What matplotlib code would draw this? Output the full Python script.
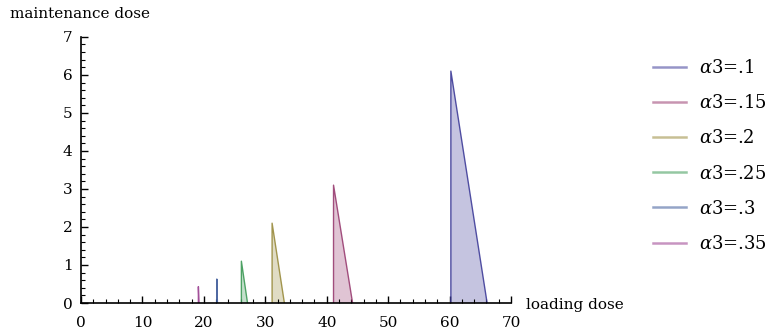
import matplotlib.pyplot as plt
from matplotlib.ticker import MultipleLocator

plt.rcParams['font.family'] = ['DejaVu Serif']
plt.rcParams['mathtext.fontset'] = 'dejavuserif'

# data: each curve rises at x_start, peaks, falls to 0 at x_end
labels = ['$\\alpha$3=.1', '$\\alpha$3=.15', '$\\alpha$3=.2',
          '$\\alpha$3=.25', '$\\alpha$3=.3', '$\\alpha$3=.35']
x_start = [60.2, 41.1, 31.1, 26.1, 22.1, 19.1]
x_end = [66.1, 44.2, 33.1, 27.1, 22.2, 19.2]
peak = [6.1, 3.1, 2.1, 1.1, 0.63, 0.43]
colors = ['#3f3d99', '#993d71', '#998b3d', '#3d9956', '#3d5a99', '#993d8f']

fig = plt.figure(figsize=(7.74, 3.3), dpi=100)
ax = fig.add_axes([0.1047, 0.0818, 0.5556, 0.8064])

for lab, xs, xe, p, c in zip(labels, x_start, x_end, peak, colors):
    xx = [xs, xs, xe]
    yy = [0, p, 0]
    ax.fill(xx, yy, color=c, alpha=0.3, lw=0)
    ax.plot(xx, yy, color=c, lw=1.0, alpha=0.9)
    # legend handle (lighter line, as in the original)
    ax.plot([], [], color=c, lw=1.8, alpha=0.55, label=lab)

ax.set_xlim(0, 70)
ax.set_ylim(0, 7)
ax.spines['top'].set_visible(False)
ax.spines['right'].set_visible(False)
ax.spines['left'].set_linewidth(1.2)
ax.spines['bottom'].set_linewidth(1.2)

ax.xaxis.set_major_locator(MultipleLocator(10))
ax.xaxis.set_minor_locator(MultipleLocator(2))
ax.yaxis.set_major_locator(MultipleLocator(1))
ax.yaxis.set_minor_locator(MultipleLocator(0.2))
ax.tick_params(which='major', direction='in', length=5, width=1.0, labelsize=11, pad=6)
ax.tick_params(axis='x', which='major', pad=9)
ax.tick_params(which='minor', direction='in', length=3, width=0.8)

fig.text(0.013, 0.958, 'maintenance dose', fontsize=11, va='center', ha='left')
fig.text(0.680, 0.076, 'loading dose', fontsize=11, va='center', ha='left')

leg = fig.legend(loc='upper left', bbox_to_anchor=(0.823, 0.87), frameon=False,
                 fontsize=13, handlelength=1.83, handletextpad=0.72, labelspacing=0.95)

fig.savefig('out.png', dpi=100)
